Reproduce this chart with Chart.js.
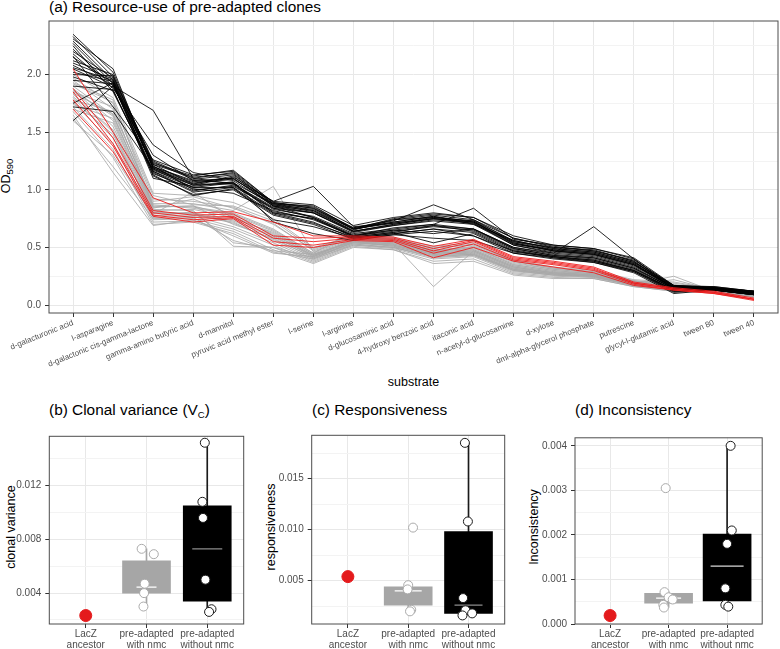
<!DOCTYPE html>
<html>
<head>
<meta charset="utf-8">
<script src="https://cdn.jsdelivr.net/npm/chart.js@4.4.1/dist/chart.umd.min.js"></script>
<style>
html,body{margin:0;padding:0;background:#fff;}
body{width:780px;height:649px;position:relative;overflow:hidden;font-family:"Liberation Sans",Arial,Helvetica,sans-serif;}
canvas{position:absolute;}
.txt{position:absolute;white-space:nowrap;color:#000;}
.ttl{font-size:15.4px;line-height:15px;}
.axt{font-size:12.5px;line-height:12.5px;}
.sub{font-size:9.5px;position:relative;top:3px;}
</style>
</head>
<body>
<div class="txt ttl" style="left:49px;top:-1px">(a) Resource-use of pre-adapted clones</div>
<div class="txt axt" style="left:7px;top:176px;transform:translate(-50%,-50%) rotate(-90deg)">OD<span class="sub">590</span></div>
<canvas id="cTop" width="780" height="370" style="left:0;top:0"></canvas>
<div class="txt axt" style="left:413.5px;top:376px;transform:translateX(-50%)">substrate</div>

<div class="txt ttl" style="left:49px;top:402px">(b) Clonal variance (V<span class="sub">C</span>)</div>
<div class="txt ttl" style="left:312px;top:402px">(c) Responsiveness</div>
<div class="txt ttl" style="left:575px;top:402px">(d) Inconsistency</div>
<div class="txt axt" style="left:10.6px;top:526.7px;transform:translate(-50%,-50%) rotate(-90deg)">clonal variance</div>
<div class="txt axt" style="left:271.4px;top:526.7px;transform:translate(-50%,-50%) rotate(-90deg)">responsiveness</div>
<div class="txt axt" style="left:533.7px;top:526.7px;transform:translate(-50%,-50%) rotate(-90deg)">Inconsistency</div>
<canvas id="cB" width="260" height="229" style="left:0;top:420px"></canvas>
<canvas id="cC" width="260" height="229" style="left:260px;top:420px"></canvas>
<canvas id="cD" width="260" height="229" style="left:520px;top:420px"></canvas>

<script>
// ---------------- DATA ----------------
const substrates = ['d-galacturonic acid','l-asparagine','d-galactonic cis-gamma-lactone','gamma-amino butyric acid','d-mannitol','pyruvic acid methyl ester','l-serine','l-arginine','d-glucosaminic acid','4-hydroxy benzoic acid','itaconic acid','n-acetyl-d-glucosamine','d-xylose','dml-alpha-glycerol phosphate','putrescine','glycyl-l-glutamic acid','tween 80','tween 40'];
const odTicks = [0, 0.5, 1.0, 1.5, 2.0];
const odMinorTicks = [0.25, 0.75, 1.25, 1.75, 2.25];

// pre-adapted clones without nmc (black)
const withoutNmcOD = [
 [2.35,2.02,1.22,1.05,1.12,0.86,0.82,0.64,0.70,0.75,0.72,0.54,0.47,0.44,0.35,0.16,0.15,0.11],
 [2.33,1.98,1.25,1.10,1.15,0.88,0.84,0.66,0.72,0.77,0.70,0.56,0.49,0.46,0.37,0.17,0.15,0.12],
 [2.31,2.05,1.18,1.02,1.06,0.88,0.86,0.66,0.75,0.79,0.76,0.58,0.50,0.48,0.38,0.14,0.14,0.10],
 [2.29,1.95,1.20,1.08,1.10,0.87,0.81,0.65,0.74,0.76,0.73,0.53,0.48,0.45,0.36,0.15,0.15,0.11],
 [2.27,1.92,1.15,0.98,1.02,0.80,0.72,0.58,0.62,0.66,0.63,0.47,0.41,0.38,0.30,0.13,0.13,0.09],
 [2.22,1.90,1.69,1.10,1.05,0.85,0.80,0.63,0.69,0.74,0.71,0.52,0.46,0.43,0.34,0.15,0.14,0.10],
 [2.20,1.97,1.23,1.12,1.17,0.89,0.85,0.67,0.73,0.87,0.74,0.55,0.50,0.47,0.38,0.16,0.16,0.12],
 [2.18,1.88,1.39,1.15,1.08,0.86,0.76,0.60,0.67,0.70,0.84,0.57,0.52,0.49,0.41,0.17,0.15,0.12],
 [2.15,1.93,1.12,0.96,1.00,0.78,0.70,0.57,0.61,0.64,0.60,0.45,0.40,0.37,0.29,0.12,0.13,0.09],
 [2.12,2.00,1.19,1.06,1.09,0.90,1.03,0.68,0.71,0.75,0.72,0.54,0.47,0.44,0.35,0.14,0.14,0.11],
 [2.10,1.96,1.21,1.00,1.03,0.84,0.80,0.64,0.69,0.73,0.70,0.52,0.45,0.68,0.40,0.16,0.15,0.10],
 [2.08,1.91,1.17,1.04,1.11,0.90,0.87,0.69,0.76,0.80,0.76,0.60,0.52,0.49,0.40,0.14,0.14,0.11],
 [2.05,1.89,1.30,1.08,1.06,0.80,0.75,0.59,0.63,0.54,0.62,0.46,0.42,0.38,0.29,0.11,0.13,0.09],
 [2.02,1.94,1.14,1.01,0.97,0.82,0.74,0.60,0.64,0.68,0.65,0.49,0.43,0.40,0.31,0.13,0.14,0.10],
 [2.00,1.99,1.24,1.09,1.13,0.88,0.82,0.66,0.72,0.77,0.72,0.55,0.48,0.45,0.36,0.15,0.15,0.11],
 [1.98,1.86,1.16,0.99,1.04,0.83,0.77,0.62,0.66,0.70,0.66,0.50,0.44,0.41,0.32,0.14,0.14,0.10],
 [1.95,1.92,1.10,1.03,1.07,0.72,0.62,0.56,0.61,0.58,0.56,0.45,0.41,0.37,0.28,0.10,0.13,0.09],
 [1.90,1.87,1.13,0.95,1.01,0.79,0.71,0.59,0.63,0.69,0.64,0.48,0.42,0.39,0.30,0.13,0.13,0.09],
 [1.75,1.93,1.20,1.07,1.10,0.86,0.80,0.64,0.70,0.75,0.71,0.53,0.47,0.44,0.35,0.15,0.14,0.11],
 [1.72,1.68,1.18,1.05,1.05,0.84,0.76,0.61,0.65,0.69,0.66,0.50,0.45,0.42,0.33,0.14,0.14,0.10],
 [1.60,1.90,1.22,1.11,1.14,0.87,0.83,0.66,0.71,0.76,0.73,0.56,0.49,0.46,0.37,0.16,0.15,0.12],
 [2.25,1.85,1.16,1.02,1.02,0.74,0.68,0.58,0.62,0.66,0.60,0.47,0.42,0.39,0.30,0.12,0.13,0.09],
 [2.16,1.72,1.26,1.13,1.16,0.89,0.84,0.67,0.74,0.78,0.74,0.58,0.51,0.47,0.39,0.17,0.16,0.12],
 [2.06,1.95,1.19,1.04,1.06,0.81,0.75,0.60,0.65,0.62,0.66,0.49,0.43,0.41,0.32,0.14,0.14,0.10]
];

// pre-adapted clones with nmc (grey)
const withNmcOD = [
 [2.00,1.80,0.97,0.95,0.89,0.75,0.50,0.60,0.58,0.51,0.54,0.39,0.33,0.30,0.22,0.20,0.14,0.10],
 [1.97,1.75,0.92,0.90,0.85,0.70,0.48,0.59,0.57,0.50,0.52,0.38,0.32,0.29,0.21,0.18,0.13,0.09],
 [1.95,1.70,0.88,0.88,0.82,1.03,0.46,0.58,0.56,0.48,0.50,0.36,0.31,0.28,0.20,0.17,0.13,0.09],
 [1.93,1.78,0.86,0.85,0.80,0.66,0.45,0.57,0.55,0.47,0.49,0.35,0.30,0.27,0.20,0.16,0.12,0.08],
 [1.90,1.65,0.84,0.92,0.78,0.64,0.44,0.56,0.54,0.46,0.48,0.34,0.29,0.27,0.19,0.15,0.12,0.08],
 [1.88,1.60,0.82,0.83,0.76,0.62,0.43,0.55,0.53,0.16,0.47,0.33,0.28,0.26,0.19,0.14,0.12,0.08],
 [1.87,1.55,0.80,0.80,0.74,0.60,0.42,0.57,0.55,0.45,0.46,0.32,0.27,0.26,0.18,0.22,0.13,0.09],
 [1.85,1.72,0.85,0.86,0.70,0.58,0.41,0.54,0.52,0.44,0.45,0.31,0.27,0.25,0.18,0.25,0.12,0.08],
 [1.83,1.50,0.78,0.78,0.72,0.56,0.40,0.55,0.51,0.43,0.44,0.30,0.26,0.25,0.17,0.13,0.11,0.07],
 [1.80,1.45,0.76,0.77,0.68,0.54,0.39,0.53,0.50,0.42,0.43,0.29,0.26,0.24,0.17,0.14,0.11,0.07],
 [1.78,1.68,0.90,0.94,0.84,0.71,0.47,0.58,0.56,0.47,0.51,0.37,0.31,0.28,0.21,0.16,0.13,0.09],
 [1.76,1.40,0.74,0.75,0.66,0.52,0.38,0.52,0.49,0.40,0.42,0.28,0.25,0.24,0.17,0.13,0.11,0.07],
 [1.74,1.62,0.83,0.82,0.51,0.50,0.37,0.51,0.48,0.38,0.40,0.27,0.24,0.23,0.16,0.12,0.11,0.07],
 [1.72,1.35,0.72,0.73,0.64,0.48,0.36,0.50,0.48,0.36,0.38,0.26,0.23,0.23,0.16,0.12,0.11,0.07],
 [1.70,1.58,0.81,0.79,0.73,0.59,0.43,0.56,0.53,0.45,0.47,0.33,0.28,0.26,0.19,0.15,0.12,0.08],
 [1.68,1.28,0.70,0.72,0.62,0.46,0.40,0.52,0.50,0.41,0.43,0.30,0.26,0.25,0.17,0.14,0.11,0.08],
 [1.65,1.15,0.69,0.74,0.60,0.45,0.42,0.54,0.51,0.43,0.44,0.31,0.27,0.25,0.18,0.14,0.12,0.08],
 [1.62,1.20,0.75,0.76,0.56,0.47,0.44,0.55,0.52,0.44,0.46,0.32,0.28,0.26,0.18,0.15,0.12,0.08],
 [1.60,1.30,0.77,0.81,0.54,0.50,0.41,0.53,0.50,0.42,0.44,0.30,0.27,0.25,0.17,0.13,0.11,0.07],
 [1.92,1.76,0.95,0.87,0.86,0.73,0.49,0.60,0.57,0.49,0.53,0.38,0.32,0.29,0.21,0.19,0.14,0.10],
 [1.86,1.64,0.87,0.84,0.79,0.65,0.45,0.64,0.59,0.46,0.50,0.35,0.30,0.27,0.20,0.16,0.13,0.09],
 [1.81,1.52,0.79,0.98,0.75,0.63,0.44,0.56,0.54,0.46,0.48,0.34,0.29,0.26,0.19,0.15,0.12,0.08],
 [1.77,1.48,0.80,0.79,0.71,0.57,0.42,0.54,0.52,0.44,0.45,0.31,0.27,0.25,0.18,0.14,0.12,0.08],
 [1.84,1.66,0.85,0.86,0.77,0.61,0.43,0.55,0.53,0.45,0.47,0.33,0.28,0.26,0.19,0.15,0.12,0.08]
];

// LacZ ancestor (red)
const ancestorOD = [
 [2.05,1.50,0.93,0.80,0.81,0.72,0.60,0.60,0.59,0.51,0.57,0.42,0.38,0.33,0.20,0.15,0.12,0.06],
 [1.88,1.45,0.82,0.78,0.79,0.60,0.58,0.59,0.58,0.49,0.56,0.41,0.37,0.32,0.19,0.14,0.11,0.05],
 [1.85,1.40,0.80,0.76,0.77,0.58,0.55,0.58,0.57,0.47,0.55,0.40,0.36,0.31,0.19,0.14,0.11,0.05],
 [1.78,1.38,0.78,0.74,0.76,0.55,0.52,0.57,0.56,0.45,0.53,0.39,0.35,0.30,0.18,0.13,0.10,0.05],
 [1.70,1.33,0.77,0.72,0.75,0.52,0.50,0.56,0.55,0.41,0.50,0.38,0.33,0.28,0.17,0.13,0.10,0.04]
];

// bottom panels
const groupLabels = [['LacZ','ancestor'],['pre-adapted','with nmc'],['pre-adapted','without nmc']];

// (b) clonal variance
const vcAncestor = 0.00233;
const vcWithNmc = [0.0073, 0.0069, 0.0047, 0.0040, 0.0030];
const vcWithNmcJitter = [-0.08, 0.12, -0.03, -0.04, -0.05];
const vcWithoutNmc = [0.0152, 0.0108, 0.0096, 0.0050, 0.0028, 0.0026];
const vcWithoutNmcJitter = [-0.04, -0.08, -0.07, -0.03, 0.07, 0.03];
const vcBoxWithNmc = [0.0030, 0.0040, 0.00445, 0.0064, 0.0073];     // whisker low, q1, median, q3, whisker high
const vcBoxWithoutNmc = [0.0026, 0.0034, 0.0073, 0.0105, 0.0152];
const vcTicks = [0.004, 0.008, 0.012];
const vcMinorTicks = [0.002, 0.006, 0.010, 0.014];

// (c) responsiveness
const respAncestor = 0.0054;
const respWithNmc = [0.0102, 0.00456, 0.00415, 0.00215, 0.0020];
const respWithNmcJitter = [0.08, 0.0, -0.01, 0.05, 0.03];
const respWithoutNmc = [0.0185, 0.0108, 0.0033, 0.0021, 0.0018, 0.0016];
const respWithoutNmcJitter = [-0.06, -0.01, -0.09, -0.05, 0.06, -0.10];
const respBoxWithNmc = [0.0020, 0.0026, 0.0040, 0.0044, 0.0044];
const respBoxWithoutNmc = [0.0016, 0.0018, 0.0026, 0.0098, 0.0185];
const respTicks = [0.005, 0.010, 0.015];
const respMinorTicks = [0.0025, 0.0075, 0.0125, 0.0175];

// (d) inconsistency
const incAncestor = 0.00019;
const incWithNmc = [0.00305, 0.000715, 0.0006, 0.00055, 0.00043, 0.00037];
const incWithNmcJitter = [-0.05, -0.07, 0.0, 0.07, -0.09, -0.08];
const incWithoutNmc = [0.0040, 0.0021, 0.0018, 0.0008, 0.00043, 0.00039];
const incWithoutNmcJitter = [0.06, 0.08, 0.0, -0.03, -0.03, 0.02];
const incBoxWithNmc = [0.00037, 0.00047, 0.00058, 0.00069, 0.00072];
const incBoxWithoutNmc = [0.00039, 0.00052, 0.0013, 0.00202, 0.0040];
const incTicks = [0, 0.001, 0.002, 0.003, 0.004];
const incMinorTicks = [0.0005, 0.0015, 0.0025, 0.0035];

// ---------------- RENDER ----------------
Chart.defaults.font.family = '"Liberation Sans", Arial, Helvetica, sans-serif';
Chart.defaults.color = '#4d4d4d';
Chart.defaults.animation = false;

const GRID = '#e8e8e8', GRID_MINOR = '#f3f3f3', AXIS = '#333333';
const RED = '#e41a1c';

const frame = {
  id: 'frame',
  afterDatasetsDraw(chart) {
    const {ctx, chartArea: a} = chart;
    ctx.save();
    ctx.strokeStyle = '#4d4d4d';
    ctx.lineWidth = 1;
    ctx.strokeRect(a.left, a.top, a.right - a.left, a.bottom - a.top);
    ctx.restore();
  }
};

function yScale(major, minor, min, max, width, digits) {
  const all = major.concat(minor).sort((a, b) => a - b);
  return {
    type: 'linear', min: min, max: max,
    afterBuildTicks: s => { s.ticks = all.map(v => ({value: v})); },
    afterFit: s => { s.width = width; },
    border: {display: false},
    grid: {
      color: c => (c.tick && major.includes(c.tick.value)) ? GRID : GRID_MINOR,
      tickColor: c => (c.tick && major.includes(c.tick.value)) ? AXIS : 'rgba(0,0,0,0)',
      tickLength: 4, lineWidth: 1
    },
    ticks: {
      padding: 4, color: '#4d4d4d', font: {size: 10},
      callback: v => major.includes(v) ? v.toFixed(digits) : ''
    }
  };
}

// top panel
const lineDs = (rows, color, w) => rows.map(r => ({
  type: 'line',
  data: r.map((v, i) => ({x: i, y: v})),
  borderColor: color, borderWidth: w, pointRadius: 0, tension: 0, fill: false
}));

new Chart(document.getElementById('cTop'), {
  type: 'line',
  data: {datasets: [
    ...lineDs(ancestorOD, '#ee1c1c', 0.9),
    ...lineDs(withoutNmcOD, '#000000', 0.85),
    ...lineDs(withNmcOD, '#a9a9a9', 0.85)
  ]},
  options: {
    responsive: false, events: [],
    layout: {padding: {top: 21, right: 2, left: 0, bottom: 0}},
    plugins: {legend: {display: false}, tooltip: {enabled: false}},
    scales: {
      x: {
        type: 'linear', min: -0.6, max: 17.6,
        afterBuildTicks: s => { s.ticks = substrates.map((_, i) => ({value: i})); },
        afterFit: s => { s.height = 57; },
        border: {display: false},
        grid: {color: GRID, tickColor: AXIS, tickLength: 4, lineWidth: 1},
        ticks: {autoSkip: false, maxRotation: 22, minRotation: 22, padding: 1, color: '#4d4d4d',
                font: {size: 8}, callback: v => substrates[Math.round(v)]}
      },
      y: yScale(odTicks, odMinorTicks, -0.069, 2.465, 49, 1)
    }
  },
  plugins: [frame]
});

function boxPanel(id, p) {
  const med = [
    {x: 1, y: p.boxW[2]}, {x: 2, y: p.boxWo[2]}
  ];
  new Chart(document.getElementById(id), {
    type: 'bar',
    data: {datasets: [
      {type: 'scatter', order: 0, data: [{x: 0, y: p.anc}], pointRadius: 6,
       pointBackgroundColor: RED, pointBorderColor: RED, pointBorderWidth: 1},
      {type: 'scatter', order: 0, data: p.w.map((v, i) => ({x: 1 + p.wj[i], y: v})), pointRadius: 4.5,
       pointBackgroundColor: '#ffffff', pointBorderColor: '#aaaaaa', pointBorderWidth: 1},
      {type: 'scatter', order: 0, data: p.wo.map((v, i) => ({x: 2 + p.woj[i], y: v})), pointRadius: 4.5,
       pointBackgroundColor: '#ffffff', pointBorderColor: '#1a1a1a', pointBorderWidth: 1},
      {type: 'scatter', order: 1, data: med, pointStyle: 'line', pointRadius: p.medR,
       pointBorderColor: ['#ffffff', p.medCol], pointBorderWidth: 1.3},
      {type: 'bar', order: 2, grouped: false, barThickness: 48, borderWidth: 0,
       data: [{x: 1, y: [p.boxW[1], p.boxW[3]]}, {x: 2, y: [p.boxWo[1], p.boxWo[3]]}],
       backgroundColor: ['#a6a6a6', '#000000']},
      {type: 'bar', order: 3, grouped: false, barThickness: 1, borderWidth: 0,
       data: [{x: 1, y: [p.boxW[0], p.boxW[4]]}, {x: 2, y: [p.boxWo[0], p.boxWo[4]]}],
       backgroundColor: ['#a6a6a6', '#1a1a1a']}
    ]},
    options: {
      responsive: false, events: [],
      layout: {padding: {top: 9.3, right: p.padR, left: 0, bottom: 0}},
      plugins: {legend: {display: false}, tooltip: {enabled: false}},
      scales: {
        x: {
          type: 'linear', min: -0.6, max: 2.6, offset: false,
          afterBuildTicks: s => { s.ticks = groupLabels.map((_, i) => ({value: i})); },
          afterFit: s => { s.height = 25; },
          border: {display: false},
          grid: {offset: false, color: GRID, tickColor: AXIS, tickLength: 4, lineWidth: 1},
          ticks: {autoSkip: false, maxRotation: 0, minRotation: 0, padding: 1, color: '#4d4d4d',
                  font: {size: 10, lineHeight: 1.1}, callback: v => groupLabels[Math.round(v)]}
        },
        y: yScale(p.major, p.minor, p.min, p.max, p.yw, 3)
      }
    },
    plugins: [frame]
  });
}

boxPanel('cB', {anc: vcAncestor, w: vcWithNmc, wj: vcWithNmcJitter, wo: vcWithoutNmc, woj: vcWithoutNmcJitter,
  boxW: vcBoxWithNmc, boxWo: vcBoxWithoutNmc, major: vcTicks, minor: vcMinorTicks,
  min: 0.0017, max: 0.01568, yw: 49.3, padR: 6, medR: [10, 15], medCol: '#8c8c8c'});
boxPanel('cC', {anc: respAncestor, w: respWithNmc, wj: respWithNmcJitter, wo: respWithoutNmc, woj: respWithoutNmcJitter,
  boxW: respBoxWithNmc, boxWo: respBoxWithoutNmc, major: respTicks, minor: respMinorTicks,
  min: 0.00076, max: 0.01924, yw: 51.7, padR: 4.3, medR: [13.5, 14], medCol: '#8c8c8c'});
boxPanel('cD', {anc: incAncestor, w: incWithNmc, wj: incWithNmcJitter, wo: incWithoutNmc, woj: incWithoutNmcJitter,
  boxW: incBoxWithNmc, boxWo: incBoxWithoutNmc, major: incTicks, minor: incMinorTicks,
  min: 0, max: 0.00418, yw: 55, padR: 1, medR: [12.5, 16.5], medCol: '#d9d9d9'});
</script>
</body>
</html>
